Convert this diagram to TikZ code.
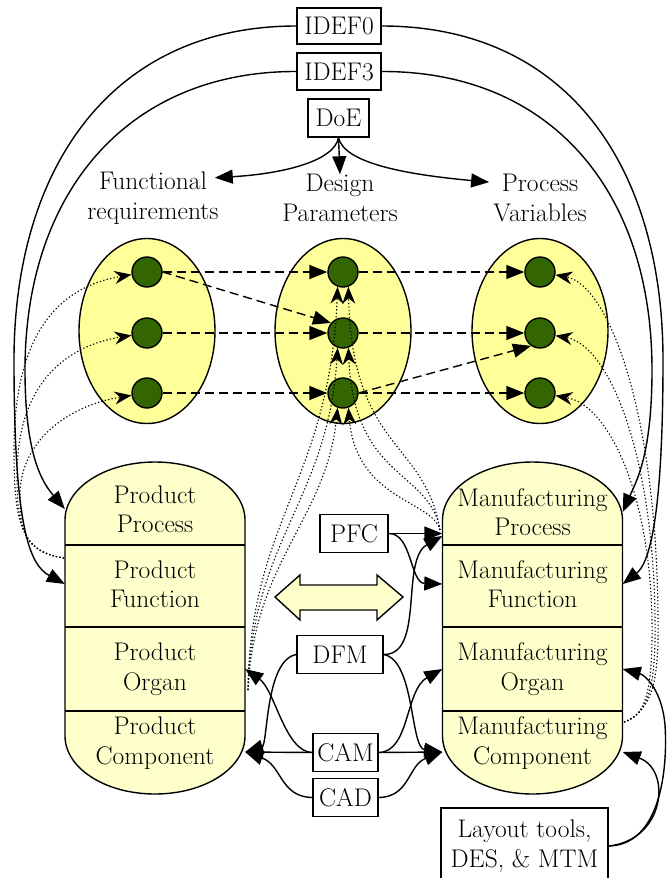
\documentclass[tikz,border=0pt]{standalone}
\usetikzlibrary{arrows.meta,shapes.geometric}
\definecolor{ellyellow}{RGB}{255,255,153}
\definecolor{pillyellow}{RGB}{255,255,204}
\definecolor{dotgreen}{RGB}{51,102,0}
\tikzset{
  txt/.style={font=\fontsize{25.5}{29.5}\selectfont, align=center, inner sep=0pt},
  tbox/.style={txt, draw, fill=white, line width=1.4pt, minimum height=38pt},
  rowtxt/.style={txt, minimum width=180pt},
  group/.style={ellipse, draw, line width=1.4pt, fill=ellyellow, minimum width=136pt, minimum height=185pt},
  param/.style={circle, draw, line width=1.4pt, fill=dotgreen, minimum size=30pt, inner sep=0pt},
  solidarr/.style={line width=1.4pt, -{Triangle[length=18pt,width=14pt]}},
  dasharr/.style={solidarr, dash pattern=on 9pt off 5pt},
  dotarr/.style={line width=1.1pt, dash pattern=on 1.3pt off 2.2pt, -{Stealth[length=17pt,width=13pt]}},
}
\begin{document}
\begin{tikzpicture}[x=1pt,y=-1pt]
\useasboundingbox (0,0) rectangle (668,878);

% the three parameter sets
\node[group] (frset) at (147,331) {};
\node[group] (dpset) at (343,331) {};
\node[group] (pvset) at (540,331) {};

% product and manufacturing stacks
\foreach \cx in {155,532.5} {
  \draw[line width=1.4pt, fill=pillyellow] (\cx-90,520) .. controls (\cx-90,488) and (\cx-50,462) .. (\cx,462)
    .. controls (\cx+50,462) and (\cx+90,488) .. (\cx+90,520) -- (\cx+90,736)
    .. controls (\cx+90,768) and (\cx+50,794) .. (\cx,794)
    .. controls (\cx-50,794) and (\cx-90,768) .. (\cx-90,736) -- cycle;
  \foreach \y in {545,627,711}
    \draw[line width=1.4pt] (\cx-90,\y) -- (\cx+90,\y);
}

% labels
\node[txt] (frlbl) at (153,198) {Functional\\requirements};
\node[txt] (dplbl) at (340,198) {Design\\Parameters};
\node[txt] (pvlbl) at (540,198) {Process\\Variables};

\node[rowtxt] (pproc) at (155,509) {Product\\Process};
\node[rowtxt] (pfunc) at (155,584) {Product\\Function};
\node[rowtxt] (porg) at (155,669) {Product\\Organ};
\node[rowtxt] (pcomp) at (155,743) {Product\\Component};
\node[rowtxt] (mproc) at (532.5,512) {Manufacturing\\Process};
\node[rowtxt] (mfunc) at (532.5,584) {Manufacturing\\Function};
\node[rowtxt] (morg) at (532.5,669) {Manufacturing\\Organ};
\node[rowtxt] (mcomp) at (532.5,743) {Manufacturing\\Component};

% parameters
\foreach \y [count=\i] in {272,333,393} {
  \node[param] (fr\i) at (147,\y) {};
  \node[param] (dp\i) at (343,\y) {};
  \node[param] (pv\i) at (540,\y) {};
}

% tools
\node[tbox, minimum width=84pt, minimum height=36pt] (idef0) at (339,26) {IDEF0};
\node[tbox, minimum width=84pt, minimum height=37pt] (idef3) at (339,71.5) {IDEF3};
\node[tbox, minimum width=61pt] (doe) at (338.5,118) {DoE};
\node[tbox, minimum width=68pt] (pfc) at (354,533.5) {PFC};
\node[tbox, minimum width=86pt] (dfm) at (340,654.5) {DFM};
\node[tbox, minimum width=65pt] (cam) at (345.5,752.5) {CAM};
\node[tbox, minimum width=65pt] (cad) at (345.5,797.5) {CAD};
\node[tbox, minimum width=167pt, minimum height=76pt] (layout) at (524.5,846) {Layout tools,\\DES, \& MTM};

\draw[line width=1.4pt, fill=pillyellow] (275,597) -- (300,575) -- (300,585) -- (377,585) -- (377,575)
  -- (403,597) -- (377,620) -- (377,610) -- (300,610) -- (300,620) -- cycle;

\coordinate (pfsrc) at (64,558);
\coordinate (mcsrc) at (624,722);
\coordinate (posrc) at (248,690);
\coordinate (mpsrc) at (440,530);

% IDEF links
\draw[solidarr] (idef0.west) .. controls (110,26) and (14,170) .. (14,360) .. controls (14,530) and (30,565) .. (pfunc.west);
\draw[solidarr] (idef3.west) .. controls (130,71) and (25,190) .. (25,370) .. controls (25,455) and (42,482) .. (pproc.west);
\draw[solidarr] (idef0.east) .. controls (570,26) and (663,170) .. (663,360) .. controls (663,530) and (647,565) .. (mfunc.east);
\draw[solidarr] (idef3.east) .. controls (550,71) and (652,190) .. (652,370) .. controls (652,455) and (636,482) .. (mproc.east);

% DoE
\draw[solidarr] (doe.south) .. controls (334,162) and (280,174) .. ([xshift=-4pt,yshift=-6pt]frlbl.north east);
\draw[solidarr] (doe.south) -- (dplbl.north);
\draw[solidarr] (doe.south) .. controls (344,162) and (400,174) .. ([xshift=-4pt,yshift=-8pt]pvlbl.north west);

% mappings
\foreach \i in {1,2,3} {
  \draw[dasharr] (fr\i) -- (dp\i);
  \draw[dasharr] (dp\i) -- (pv\i);
}
\draw[dasharr] (fr1.east) -- (dp2.140);
\draw[dasharr] (dp3.east) -- (pv2.-125);

% dotted feedback
\draw[dotarr] (pfsrc) .. controls (20,552) and (14,520) .. (14,450) .. controls (14,320) and (70,285) .. (fr1);
\draw[dotarr] (pfsrc) .. controls (22,552) and (17,525) .. (17,475) .. controls (17,380) and (70,345) .. (fr2);
\draw[dotarr] (pfsrc) .. controls (24,552) and (20,530) .. (20,495) .. controls (20,440) and (70,405) .. (fr3);
\draw[dotarr] (mcsrc) .. controls (648,712) and (657,690) .. (658,640) .. controls (660,420) and (610,285) .. (pv1);
\draw[dotarr] (mcsrc) .. controls (647,714) and (654,690) .. (655,640) .. controls (657,460) and (610,345) .. (pv2);
\draw[dotarr] (mcsrc) .. controls (646,716) and (651,690) .. (652,640) .. controls (654,500) and (610,405) .. (pv3);
\draw[dotarr] (posrc) .. controls (250,520) and (330,480) .. (dp1.-110);
\draw[dotarr] (posrc) .. controls (252,540) and (328,500) .. (dp2.-110);
\draw[dotarr] (posrc) .. controls (254,560) and (326,520) .. (dp3.-110);
\draw[dotarr] (mpsrc) .. controls (425,440) and (352,450) .. (dp1.-70);
\draw[dotarr] (mpsrc) .. controls (430,470) and (354,480) .. (dp2.-70);
\draw[dotarr] (mpsrc) .. controls (432,500) and (356,500) .. (dp3.-70);

% tool links
\draw[solidarr] (pfc.east) -- (pfc.east -| mproc.west);
\draw[solidarr] (pfc.east) .. controls (412,533) and (410,583) .. (mfunc.west);
\draw[solidarr] (dfm.east) .. controls (425,655) and (400,560) .. (mproc.south west);
\draw[solidarr] (dfm.east) .. controls (415,660) and (410,748) .. ([yshift=-9pt]mcomp.west);
\draw[solidarr] (dfm.west) .. controls (265,660) and (268,745) .. ([yshift=-9pt]pcomp.east);
\draw[solidarr] (cam.west) .. controls (285,752) and (275,690) .. (porg.east);
\draw[solidarr] (cam.west) -- ([yshift=-9pt]pcomp.east);
\draw[solidarr] (cam.east) .. controls (410,752) and (405,690) .. (morg.west);
\draw[solidarr] (cam.east) -- ([yshift=-9pt]mcomp.west);
\draw[solidarr] (cad.west) .. controls (280,797) and (282,765) .. ([yshift=-9pt]pcomp.east);
\draw[solidarr] (cad.east) .. controls (410,797) and (408,765) .. ([yshift=-9pt]mcomp.west);
\draw[solidarr] (layout.east) .. controls (660,845) and (668,770) .. (665,725) .. controls (662,690) and (645,675) .. (morg.east);
\draw[solidarr] (layout.east) .. controls (665,840) and (672,770) .. ([yshift=-9pt]mcomp.east);
\end{tikzpicture}
\end{document}
